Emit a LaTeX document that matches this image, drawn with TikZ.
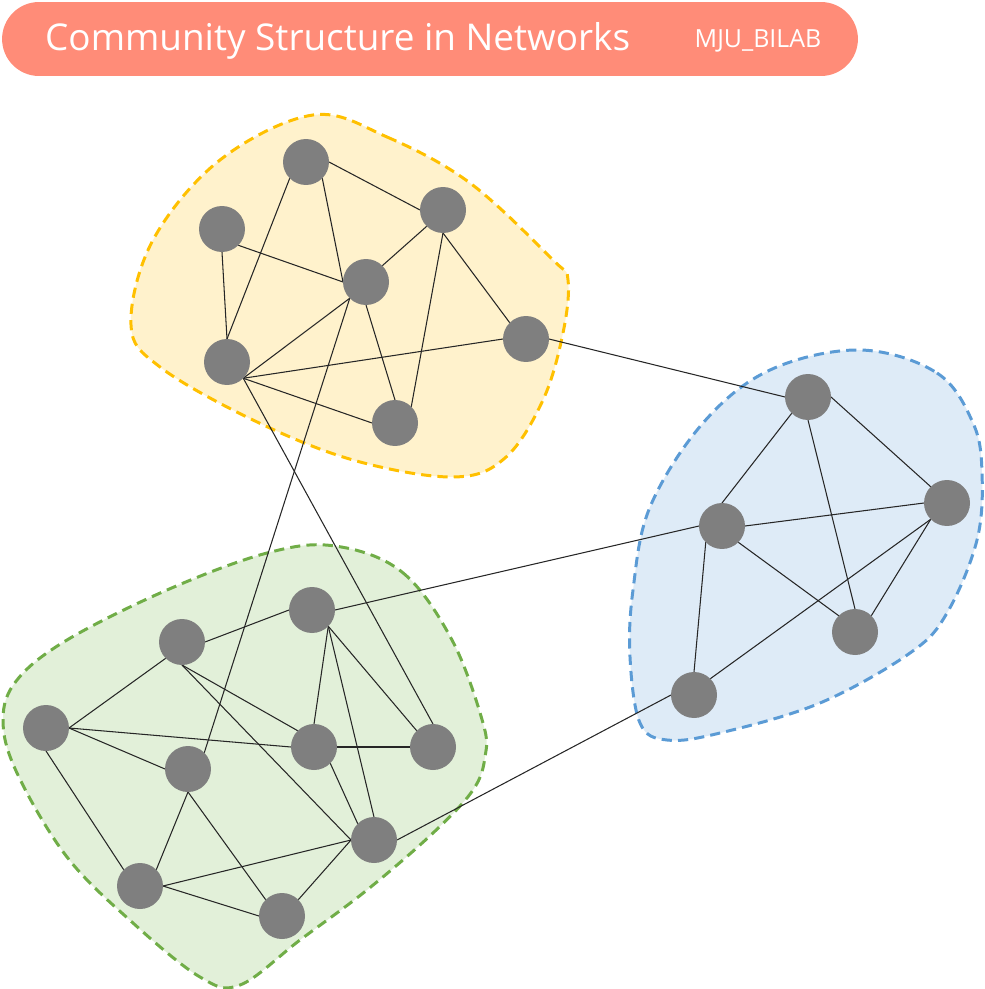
\documentclass[tikz,border=0pt]{standalone}
\usepackage{fontspec}
\setmainfont{Open Sans}
\usetikzlibrary{backgrounds}
\definecolor{titlered}{HTML}{FF8C78}
\definecolor{vertexgray}{HTML}{7F7F7F}
\definecolor{yfill}{HTML}{FFF2CC}
\definecolor{yline}{HTML}{FFC000}
\definecolor{bfill}{HTML}{DEEBF7}
\definecolor{bline}{HTML}{5B9BD5}
\definecolor{gfill}{HTML}{E2F0D9}
\definecolor{gline}{HTML}{70AD47}
\tikzset{%
	vertex/.style={circle,fill=vertexgray,inner sep=0pt,outer sep=0pt,minimum size=0.92cm},
	link/.style={line width=0.6pt,black!85},
	group/.style={line width=1.7pt,dash pattern=on 5.8pt off 3.5pt},
	titlebar/.style={fill=titlered,rounded corners=0.74cm,minimum width=17.12cm,minimum height=1.48cm,inner sep=0pt},
}

\begin{document}
\begin{tikzpicture}[x=0.02cm,y=-0.02cm]
			\useasboundingbox (0,0) rectangle (984,989);
			
			%naslov
			\node[titlebar] (bar) at (430,39) {};
			\node[anchor=west,text=white,font=\fontsize{21}{25}\selectfont] (title) at (39,41) {Community Structure in Networks};
			\node[text=white,font=\fontsize{14.2}{17}\selectfont] (lab) at (758,41) {MJU\_BILAB};
			
			%vozlisca
			\node[vertex] (y1) at (306,162) {};
			\node[vertex] (y2) at (222,229) {};
			\node[vertex] (y3) at (443,210) {};
			\node[vertex] (y4) at (366,282) {};
			\node[vertex] (y5) at (526,339) {};
			\node[vertex] (y6) at (227,362) {};
			\node[vertex] (y7) at (395,423) {};
			
			\node[vertex] (b1) at (808,397) {};
			\node[vertex] (b2) at (947,503) {};
			\node[vertex] (b3) at (722,526) {};
			\node[vertex] (b4) at (855,632) {};
			\node[vertex] (b5) at (694,695) {};
			
			\node[vertex] (g1) at (312,610) {};
			\node[vertex] (g2) at (182,642) {};
			\node[vertex] (g3) at (46,728) {};
			\node[vertex] (g4) at (314,747) {};
			\node[vertex] (g5) at (433,747) {};
			\node[vertex] (g6) at (188,769) {};
			\node[vertex] (g7) at (374,840) {};
			\node[vertex] (g8) at (140,886) {};
			\node[vertex] (g9) at (282,916) {};
			
			\begin{scope}[on background layer]
			%skupnosti
			\draw[group,yline,fill=yfill] plot[smooth cycle,tension=0.6] coordinates {(313,115) (387,137) (470,183) (553,260) (568,280) (563,333) (543,400) (505,458) (453,477) (353,460) (253,420) (160,367) (131,325) (153,240) (220,160)};
			\draw[group,bline,fill=bfill] plot[smooth cycle,tension=0.6] coordinates {(860,350) (937,373) (973,423) (982,473) (977,540) (947,613) (910,653) (820,703) (720,733) (667,740) (640,723) (630,657) (633,590) (650,507) (703,423) (770,370)};
			\draw[group,gline,fill=gfill] plot[smooth cycle,tension=0.6] coordinates {(335,546) (402,572) (452,640) (483,723) (485,757) (473,790) (433,833) (367,890) (300,940) (240,985) (200,977) (133,923) (67,857) (17,773) (3,720) (17,680) (67,640) (167,590) (267,553)};
			
			%povezave
			\draw[link] (y1.east) -- (y3.west);
			\draw[link] (y1.south west) -- (y6.north);
			\draw[link] (y1.south east) -- (y4.west);
			\draw[link] (y2.south) -- (y6.north);
			\draw[link] (y2.south east) -- (y4.west);
			\draw[link] (y3.south west) -- (y4.north east);
			\draw[link] (y3.south) -- (y7.north east);
			\draw[link] (y3.south) -- (y5.north west);
			\draw[link] (y4.south west) -- (y6.south east);
			\draw[link] (y4.south) -- (y7.north);
			\draw[link] (y6.south east) -- (y5.west);
			\draw[link] (y6.south east) -- (y7.west);
			
			\draw[link] (b1.east) -- (b2.north west);
			\draw[link] (b1.south west) -- (b3.north);
			\draw[link] (b1.south) -- (b4.north);
			\draw[link] (b3.east) -- (b2.west);
			\draw[link] (b3.south east) -- (b4.north west);
			\draw[link] (b3.south west) -- (b5.north);
			\draw[link] (b2.south west) -- (b4.north east);
			\draw[link] (b2.south west) -- (b5.north east);
			
			\draw[link] (g1.west) -- (g2.east);
			\draw[link] (g1.south east) -- (g4.north);
			\draw[link] (g1.south east) -- (g7.north);
			\draw[link] (g1.south east) -- (g5.north west);
			\draw[link] (g2.south west) -- (g3.east);
			\draw[link] (g2.south) -- (g4.north west);
			\draw[link] (g2.south) -- (g7.west);
			\draw[link] (g3.east) -- (g4.west);
			\draw[link] (g3.east) -- (g6.west);
			\draw[link] (g3.south) -- (g8.north west);
			\draw[link] (g4.east) -- (g5.west);
			\draw[link] (g4.south east) -- (g7.north west);
			\draw[link] (g6.south) -- (g8.north east);
			\draw[link] (g6.south) -- (g9.north west);
			\draw[link] (g8.east) -- (g7.west);
			\draw[link] (g8.east) -- (g9.west);
			\draw[link] (g9.north east) -- (g7.west);
			
			%med skupnostmi
			\draw[link] (y5.east) -- (b1.west);
			\draw[link] (y4.south west) -- (g6.north east);
			\draw[link] (y6.south east) -- (g5.north);
			\draw[link] (b3.west) -- (g1.east);
			\draw[link] (b5.west) -- (g7.east);
			\end{scope}
		\end{tikzpicture}
\end{document}
